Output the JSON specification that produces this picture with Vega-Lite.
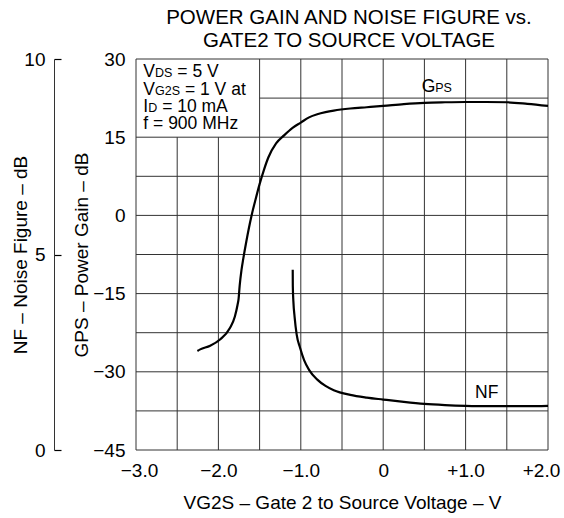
{
  "$schema": "https://vega.github.io/schema/vega-lite/v6.json",
  "width": 412,
  "height": 391,
  "autosize": {"type": "none"},
  "padding": {"left": 136, "top": 59, "right": 16, "bottom": 68},
  "background": "white",
  "config": {
    "font": "Liberation Sans",
    "view": {"stroke": null},
    "axis": {
      "labelFont": "Liberation Sans",
      "titleFont": "Liberation Sans",
      "labelColor": "#000",
      "titleColor": "#000",
      "labelFontSize": 19,
      "titleFontSize": 19,
      "titleFontWeight": "normal"
    }
  },
  "title": {
    "text": ["POWER GAIN AND NOISE FIGURE vs.", "GATE2 TO SOURCE VOLTAGE"],
    "font": "Liberation Sans",
    "fontSize": 20.5,
    "fontWeight": "normal",
    "color": "#000",
    "anchor": "middle",
    "frame": "group",
    "dx": 7,
    "offset": -1,
    "lineHeight": 23
  },
  "datasets": {
    "vgrid": [
      {"v": -3, "g": -45, "g2": 30},
      {"v": -2.5, "g": -45, "g2": 15},
      {"v": -2, "g": -45, "g2": 15},
      {"v": -1.5, "g": -45, "g2": 30},
      {"v": -1, "g": -45, "g2": 30},
      {"v": -0.5, "g": -45, "g2": 30},
      {"v": 0, "g": -45, "g2": 30},
      {"v": 0.5, "g": -45, "g2": 30},
      {"v": 1, "g": -45, "g2": 30},
      {"v": 1.5, "g": -45, "g2": 30},
      {"v": 2, "g": -45, "g2": 30}
    ],
    "hgrid": [
      {"g": -45, "v": -3, "v2": 2},
      {"g": -37.5, "v": -3, "v2": 2},
      {"g": -30, "v": -3, "v2": 2},
      {"g": -22.5, "v": -3, "v2": 2},
      {"g": -15, "v": -3, "v2": 2},
      {"g": -7.5, "v": -3, "v2": 2},
      {"g": 0, "v": -3, "v2": 2},
      {"g": 7.5, "v": -3, "v2": 2},
      {"g": 15, "v": -3, "v2": 2},
      {"g": 22.5, "v": -1.5, "v2": 2},
      {"g": 30, "v": -3, "v2": 2}
    ],
    "gps": [
      {"v": -2.255, "g": -26.0},
      {"v": -2.22, "g": -25.7},
      {"v": -2.1, "g": -25.0},
      {"v": -1.98, "g": -23.8},
      {"v": -1.86, "g": -21.6},
      {"v": -1.8, "g": -19.4},
      {"v": -1.768, "g": -17.2},
      {"v": -1.755, "g": -16.0},
      {"v": -1.742, "g": -13.5},
      {"v": -1.72, "g": -10.5},
      {"v": -1.698, "g": -8.3},
      {"v": -1.66, "g": -4.9},
      {"v": -1.6, "g": -0.2},
      {"v": -1.55, "g": 3.0},
      {"v": -1.5, "g": 6.0},
      {"v": -1.45, "g": 8.6},
      {"v": -1.394, "g": 11.1},
      {"v": -1.3, "g": 13.8},
      {"v": -1.2, "g": 15.4},
      {"v": -1.1, "g": 16.8},
      {"v": -1.0, "g": 17.8},
      {"v": -0.9, "g": 18.8},
      {"v": -0.8, "g": 19.4},
      {"v": -0.7, "g": 19.8},
      {"v": -0.6, "g": 20.1},
      {"v": -0.4, "g": 20.5},
      {"v": -0.2, "g": 20.75},
      {"v": 0.0, "g": 21.0},
      {"v": 0.25, "g": 21.35},
      {"v": 0.5, "g": 21.6},
      {"v": 0.75, "g": 21.7},
      {"v": 1.0, "g": 21.75},
      {"v": 1.25, "g": 21.75},
      {"v": 1.5, "g": 21.7},
      {"v": 1.75, "g": 21.4},
      {"v": 2.0, "g": 21.0}
    ],
    "nf": [
      {"v": -1.098, "nf": 4.61},
      {"v": -1.097, "nf": 4.2},
      {"v": -1.09, "nf": 3.8},
      {"v": -1.075, "nf": 3.4},
      {"v": -1.05, "nf": 2.95},
      {"v": -1.01, "nf": 2.62},
      {"v": -0.96, "nf": 2.3},
      {"v": -0.9, "nf": 2.05},
      {"v": -0.8, "nf": 1.8},
      {"v": -0.7, "nf": 1.64},
      {"v": -0.6, "nf": 1.53},
      {"v": -0.4, "nf": 1.41},
      {"v": -0.2, "nf": 1.34},
      {"v": 0.0, "nf": 1.29},
      {"v": 0.25, "nf": 1.23},
      {"v": 0.5, "nf": 1.18},
      {"v": 0.75, "nf": 1.15},
      {"v": 1.0, "nf": 1.13},
      {"v": 1.25, "nf": 1.12},
      {"v": 1.5, "nf": 1.12},
      {"v": 1.75, "nf": 1.12},
      {"v": 2.0, "nf": 1.13}
    ],
    "notes": [
      {"v": -2.911, "g": 26.47, "label": "V", "part": "main0"},
      {"v": -2.911, "g": 23.15, "label": "V", "part": "main0"},
      {"v": -2.911, "g": 19.83, "label": "I", "part": "main0"},
      {"v": -2.911, "g": 16.57, "label": "f = 900 MHz", "part": "main0"},
      {"v": 0.467, "g": 23.67, "label": "G", "part": "main0"},
      {"v": 1.114, "g": -35.03, "label": "NF", "part": "main0"},
      {"v": -2.911, "g": 26.47, "label": "DS", "part": "subV"},
      {"v": -2.911, "g": 23.15, "label": "G2S", "part": "subV"},
      {"v": -2.911, "g": 19.83, "label": "D", "part": "subI"},
      {"v": 0.467, "g": 23.67, "label": "PS", "part": "subG"},
      {"v": -2.911, "g": 26.47, "label": "= 5 V", "part": "rest1"},
      {"v": -2.911, "g": 23.15, "label": "= 1 V at", "part": "rest2"},
      {"v": -2.911, "g": 19.83, "label": "= 10 mA", "part": "rest3"}
    ]
  },
  "encoding": {
    "x": {
      "field": "v", "type": "quantitative",
      "scale": {"domain": [-3, 2], "nice": false, "zero": false},
      "axis": {
        "orient": "bottom",
        "tickCount": 10,
        "format": "+.1f",
        "labelExpr": "abs(datum.value % 1) > 0.01 ? '' : (abs(datum.value) < 0.01 ? '0' : datum.label)",
        "ticks": false, "grid": false, "domain": false,
        "labelPadding": 11, "labelFlush": false, "labelOverlap": false, "labelBound": false,
        "labelOffset": {"condition": [{"test": "datum.value == 2", "value": -7}, {"test": "datum.value == -3", "value": 3}], "value": 0},
        "title": "VG2S \u2013 Gate 2 to Source Voltage \u2013 V",
        "titlePadding": 13
      }
    }
  },
  "layer": [
    {
      "data": {"name": "vgrid"},
      "mark": {"type": "rule", "color": "#333", "strokeWidth": 1},
      "encoding": {
        "y": {"field": "g", "type": "quantitative", "scale": {"domain": [-45, 30], "nice": false, "zero": false}, "axis": null},
        "y2": {"field": "g2"}
      }
    },
    {
      "data": {"name": "hgrid"},
      "mark": {"type": "rule", "color": "#333", "strokeWidth": 1},
      "encoding": {
        "x2": {"field": "v2"},
        "y": {"field": "g", "type": "quantitative", "scale": {"domain": [-45, 30], "nice": false, "zero": false}, "axis": null}
      }
    },
    {
      "data": {"name": "gps"},
      "mark": {"type": "line", "color": "#000", "strokeWidth": 2.2, "interpolate": "monotone"},
      "encoding": {
        "y": {
          "field": "g", "type": "quantitative",
          "scale": {"domain": [-45, 30], "nice": false, "zero": false},
          "axis": {
            "orient": "left",
            "values": [-45, -30, -15, 0, 15, 30],
            "ticks": false, "grid": false, "domain": false,
            "labelPadding": 11, "labelFlush": false, "labelOverlap": false,
            "title": "GPS \u2013 Power Gain \u2013 dB",
            "titlePadding": 1
          }
        }
      }
    },
    {
      "data": {"name": "notes"},
      "transform": [{"filter": "datum.part == 'main0'"}],
      "mark": {"type": "text", "align": "left", "baseline": "alphabetic", "fontSize": 17.5, "color": "#000"},
      "encoding": {
        "y": {"field": "g", "type": "quantitative", "scale": {"domain": [-45, 30], "nice": false, "zero": false}, "axis": null},
        "text": {"field": "label"}
      }
    },
    {
      "data": {"name": "notes"},
      "transform": [{"filter": "datum.part == 'subV'"}],
      "mark": {"type": "text", "align": "left", "baseline": "alphabetic", "fontSize": 12.5, "dx": 11.7, "color": "#000"},
      "encoding": {
        "y": {"field": "g", "type": "quantitative", "scale": {"domain": [-45, 30], "nice": false, "zero": false}, "axis": null},
        "text": {"field": "label"}
      }
    },
    {
      "data": {"name": "notes"},
      "transform": [{"filter": "datum.part == 'subI'"}],
      "mark": {"type": "text", "align": "left", "baseline": "alphabetic", "fontSize": 12.5, "dx": 4.9, "color": "#000"},
      "encoding": {
        "y": {"field": "g", "type": "quantitative", "scale": {"domain": [-45, 30], "nice": false, "zero": false}, "axis": null},
        "text": {"field": "label"}
      }
    },
    {
      "data": {"name": "notes"},
      "transform": [{"filter": "datum.part == 'subG'"}],
      "mark": {"type": "text", "align": "left", "baseline": "alphabetic", "fontSize": 12.5, "dx": 13.6, "color": "#000"},
      "encoding": {
        "y": {"field": "g", "type": "quantitative", "scale": {"domain": [-45, 30], "nice": false, "zero": false}, "axis": null},
        "text": {"field": "label"}
      }
    },
    {
      "data": {"name": "notes"},
      "transform": [{"filter": "datum.part == 'rest1'"}],
      "mark": {"type": "text", "align": "left", "baseline": "alphabetic", "fontSize": 17.5, "dx": 34, "color": "#000"},
      "encoding": {
        "y": {"field": "g", "type": "quantitative", "scale": {"domain": [-45, 30], "nice": false, "zero": false}, "axis": null},
        "text": {"field": "label"}
      }
    },
    {
      "data": {"name": "notes"},
      "transform": [{"filter": "datum.part == 'rest2'"}],
      "mark": {"type": "text", "align": "left", "baseline": "alphabetic", "fontSize": 17.5, "dx": 41.6, "color": "#000"},
      "encoding": {
        "y": {"field": "g", "type": "quantitative", "scale": {"domain": [-45, 30], "nice": false, "zero": false}, "axis": null},
        "text": {"field": "label"}
      }
    },
    {
      "data": {"name": "notes"},
      "transform": [{"filter": "datum.part == 'rest3'"}],
      "mark": {"type": "text", "align": "left", "baseline": "alphabetic", "fontSize": 17.5, "dx": 18.8, "color": "#000"},
      "encoding": {
        "y": {"field": "g", "type": "quantitative", "scale": {"domain": [-45, 30], "nice": false, "zero": false}, "axis": null},
        "text": {"field": "label"}
      }
    },
    {
      "data": {"name": "nf"},
      "mark": {"type": "line", "color": "#000", "strokeWidth": 2.2, "interpolate": "monotone"},
      "encoding": {
        "y": {
          "field": "nf", "type": "quantitative",
          "scale": {"domain": [0, 10], "nice": false, "zero": false},
          "axis": {
            "orient": "left", "offset": 82,
            "values": [0, 5, 10],
            "grid": false,
            "ticks": true, "tickSize": -7, "tickColor": "#000", "tickWidth": 1.2, "tickOpacity": 1,
            "domain": true, "domainColor": "#333", "domainWidth": 1,
            "labelPadding": 16, "labelFlush": false, "labelOverlap": false,
            "title": "NF \u2013 Noise Figure \u2013 dB",
            "titlePadding": -7,
            "zindex": 1
          }
        }
      }
    }
  ],
  "resolve": {"scale": {"y": "independent"}}
}
